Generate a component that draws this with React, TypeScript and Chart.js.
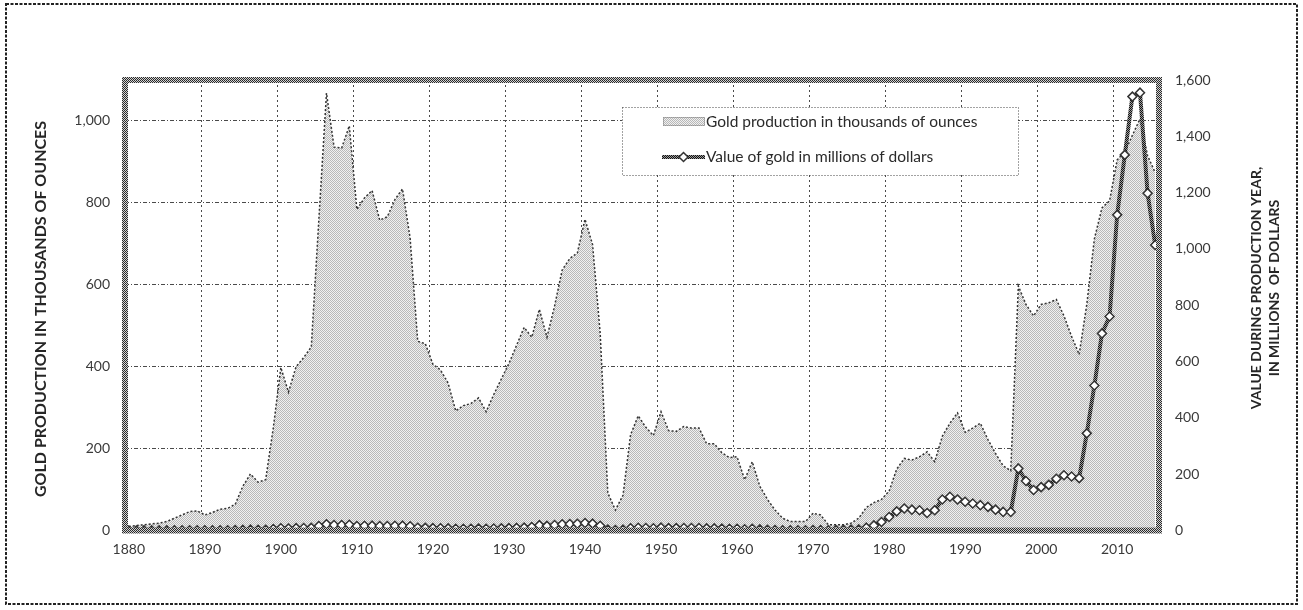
import React, { useEffect, useRef } from 'react';
import { Chart, registerables } from 'chart.js';

Chart.register(...registerables);

// Categories: production years 1880–2015
const years: number[] = Array.from({ length: 136 }, (_, i) => 1880 + i);

// Gold production in thousands of ounces (left axis)
const productionKOz: number[] = [
  10, 12, 14, 16, 18, 22, 30, 38, 46, 48, // 1880-1889
  38, 44, 52, 54, 64, 108, 138, 118, 124, 250, // 1890-1899
  398, 338, 400, 422, 448, 760, 1068, 936, 934, 988, // 1900-1909
  784, 812, 830, 758, 766, 808, 834, 714, 462, 456, // 1910-1919
  406, 392, 360, 292, 305, 310, 324, 290, 332, 370, // 1920-1929
  408, 452, 496, 472, 540, 472, 548, 636, 664, 678, // 1930-1939
  760, 698, 482, 92, 50, 86, 234, 280, 252, 232, // 1940-1949
  290, 244, 242, 254, 250, 250, 212, 212, 190, 178, // 1950-1959
  180, 124, 168, 108, 76, 50, 30, 22, 22, 22, // 1960-1969
  42, 38, 14, 14, 14, 18, 30, 56, 68, 76, // 1970-1979
  96, 150, 176, 172, 180, 192, 168, 230, 262, 287, // 1980-1989
  240, 250, 262, 222, 188, 158, 146, 597, 552, 524, // 1990-1999
  552, 556, 564, 524, 474, 430, 552, 712, 788, 805, // 2000-2009
  905, 924, 965, 1005, 915, 874, // 2010-2015
];

// Value of gold in millions of dollars (right axis)
const valueMillions: number[] = [
  0.2, 0.2, 0.3, 0.3, 0.4, 0.5, 0.6, 0.8, 1.0, 1.0, // 1880-1889
  0.8, 0.9, 1.1, 1.1, 1.3, 2.2, 2.9, 2.4, 2.6, 5.2, // 1890-1899
  8.2, 7.0, 8.3, 8.7, 9.3, 15.7, 22.1, 19.3, 19.3, 20.4, // 1900-1909
  16.2, 16.8, 17.2, 15.7, 15.8, 16.7, 17.2, 14.8, 9.5, 9.4, // 1910-1919
  8.4, 8.1, 7.4, 6.0, 6.3, 6.4, 6.7, 6.0, 6.9, 7.6, // 1920-1929
  8.4, 9.3, 10.3, 12.1, 18.9, 16.5, 19.2, 22.3, 23.2, 23.7, // 1930-1939
  26.6, 24.4, 16.9, 3.2, 1.8, 3.0, 8.2, 9.8, 8.8, 8.1, // 1940-1949
  10.2, 8.5, 8.5, 8.9, 8.8, 8.8, 7.4, 7.4, 6.7, 6.2, // 1950-1959
  6.3, 4.3, 5.9, 3.8, 2.7, 1.8, 1.1, 0.8, 0.9, 0.9, // 1960-1969
  1.5, 1.6, 0.8, 1.4, 2.2, 2.9, 3.8, 10, 18, 30, // 1970-1979
  48, 68, 78, 74, 72, 62, 72, 110, 120, 110, // 1980-1989
  102, 96, 90, 84, 74, 66, 66, 220, 176, 144, // 1990-1999
  154, 162, 184, 196, 192, 186, 345, 515, 700, 760, // 2000-2009
  1121, 1334, 1541, 1555, 1198, 1014, // 2010-2015
];

const leftTicks: number[] = [0, 200, 400, 600, 800, 1000];
const rightTicks: number[] = [0, 200, 400, 600, 800, 1000, 1200, 1400, 1600];

const leftTitle = 'GOLD PRODUCTION IN THOUSANDS OF OUNCES';
const rightTitleLines: string[] = ['VALUE DURING PRODUCTION YEAR,', 'IN MILLIONS  OF DOLLARS'];
const legendLabels: string[] = ['Gold production in thousands of ounces', 'Value of gold in millions of dollars'];

const FONT = 'Lato, "Open Sans", "DejaVu Sans", sans-serif';
const TEXT = '#3a3a3a';

function makeChecker(ctx: CanvasRenderingContext2D, a: string, b: string): CanvasPattern {
  const c = document.createElement('canvas');
  c.width = 2;
  c.height = 2;
  const g = c.getContext('2d')!;
  g.fillStyle = b;
  g.fillRect(0, 0, 2, 2);
  g.fillStyle = a;
  g.fillRect(0, 0, 1, 1);
  g.fillRect(1, 1, 1, 1);
  return ctx.createPattern(c, 'repeat')!;
}

export default function App() {
  const canvasRef = useRef<HTMLCanvasElement | null>(null);

  useEffect(() => {
    const canvas = canvasRef.current;
    if (!canvas) return;
    const ctx0 = canvas.getContext('2d')!;
    const fillPattern = makeChecker(ctx0, '#b8b8b8', '#f0f0f0');
    const linePattern = makeChecker(ctx0, '#111111', '#9a9a9a');
    const borderPattern = makeChecker(ctx0, '#2a2a2a', '#d4d4d4');

    Chart.defaults.font.family = FONT;

    const decor = {
      id: 'decor',
      afterDatasetsDraw(chart: any) {
        const { ctx, chartArea } = chart;
        const { left, top, right, bottom } = chartArea;
        ctx.save();
        // plot area border (hatched)
        ctx.strokeStyle = borderPattern;
        ctx.lineWidth = 6;
        ctx.setLineDash([]);
        ctx.strokeRect(left, top, right - left, bottom - top);

        // legend
        const lx = 622, ly = 107, lw = 396, lh = 68;
        ctx.fillStyle = '#ffffff';
        ctx.fillRect(lx, ly, lw, lh);
        ctx.strokeStyle = '#444';
        ctx.lineWidth = 1;
        ctx.setLineDash([1, 2]);
        ctx.strokeRect(lx + 0.5, ly + 0.5, lw, lh);
        ctx.setLineDash([]);
        // swatch 1
        ctx.fillStyle = fillPattern;
        ctx.fillRect(663, 117, 42, 9);
        ctx.strokeStyle = '#777';
        ctx.setLineDash([1, 1]);
        ctx.strokeRect(663.5, 117.5, 41, 8);
        ctx.setLineDash([]);
        // swatch 2
        ctx.strokeStyle = linePattern;
        ctx.lineWidth = 4;
        ctx.beginPath();
        ctx.moveTo(662, 157);
        ctx.lineTo(705, 157);
        ctx.stroke();
        ctx.beginPath();
        ctx.moveTo(683.5, 152.5);
        ctx.lineTo(688, 157);
        ctx.lineTo(683.5, 161.5);
        ctx.lineTo(679, 157);
        ctx.closePath();
        ctx.fillStyle = '#fff';
        ctx.fill();
        ctx.strokeStyle = '#333';
        ctx.lineWidth = 1.5;
        ctx.stroke();
        ctx.fillStyle = '#2a2a2a';
        ctx.font = `15.5px ${FONT}`;
        ctx.textAlign = 'left';
        ctx.textBaseline = 'middle';
        ctx.fillText(legendLabels[0], 706, 122);
        ctx.fillText(legendLabels[1], 706, 157);

        // axis titles
        ctx.fillStyle = '#262626';
        ctx.font = `bold 16px ${FONT}`;
        ctx.textAlign = 'center';
        ctx.save();
        ctx.translate(41, 309);
        ctx.rotate(-Math.PI / 2);
        ctx.fillText(leftTitle, 0, 0);
        ctx.restore();
        ctx.font = `bold 14px ${FONT}`;
        rightTitleLines.forEach((t, i) => {
          ctx.save();
          ctx.translate(1256 + i * 18, 288);
          ctx.rotate(-Math.PI / 2);
          ctx.fillText(t, 0, 0);
          ctx.restore();
        });

        // outer dashed frame
        ctx.strokeStyle = '#222';
        ctx.lineWidth = 2;
        ctx.setLineDash([3, 1.5]);
        ctx.strokeRect(6, 4, 1291, 600);
        ctx.restore();
      },
    };

    const chart = new Chart(canvas, {
      type: 'line',
      data: {
        labels: years.map(String),
        datasets: [
          {
            label: legendLabels[1],
            data: valueMillions,
            yAxisID: 'y1',
            borderColor: linePattern,
            borderWidth: 4,
            tension: 0,
            fill: false,
            pointStyle: 'rectRot',
            pointRadius: 4.5,
            pointBackgroundColor: '#ffffff',
            pointBorderColor: '#333333',
            pointBorderWidth: 1.5,
            order: 1,
          },
          {
            label: legendLabels[0],
            data: productionKOz,
            yAxisID: 'y',
            borderColor: '#333333',
            borderWidth: 1.5,
            borderDash: [2, 2],
            backgroundColor: fillPattern,
            fill: 'origin',
            tension: 0,
            pointRadius: 0,
            order: 2,
          },
        ],
      },
      options: {
        responsive: false,
        animation: false,
        devicePixelRatio: 1,
        layout: { padding: { top: 80, left: 0, right: 0, bottom: 0 } },
        plugins: { legend: { display: false }, tooltip: { enabled: false } },
        scales: {
          x: {
            type: 'category',
            offset: true,
            grid: {
              offset: true,
              drawTicks: false,
              lineWidth: 1,
              color: (c: any) => (c.index !== undefined && years[c.index] % 10 === 0 ? '#4a4a4a' : 'rgba(0,0,0,0)'),
            },
            border: { display: false, dash: [2, 3] },
            ticks: {
              autoSkip: false,
              maxRotation: 0,
              minRotation: 0,
              padding: 11,
              color: TEXT,
              font: { size: 14, family: FONT },
              callback: (_v: any, i: number) => (years[i] % 10 === 0 ? String(years[i]) : ''),
            },
            afterFit: (s: any) => {
              s.height = 79.5;
            },
          },
          y: {
            type: 'linear',
            position: 'left',
            min: 0,
            max: 1100,
            afterBuildTicks: (s: any) => {
              s.ticks = leftTicks.map((v) => ({ value: v }));
            },
            grid: {
              drawTicks: false,
              lineWidth: 1,
              color: (c: any) => (c.tick && c.tick.value > 0 ? '#4a4a4a' : 'rgba(0,0,0,0)'),
            },
            border: { display: false, dash: [4, 2, 1, 2] },
            ticks: {
              padding: 15,
              color: TEXT,
              font: { size: 14, family: FONT },
              callback: (v: any) => Number(v).toLocaleString('en-US'),
            },
            afterFit: (s: any) => {
              s.width = 125;
            },
          },
          y1: {
            type: 'linear',
            position: 'right',
            min: 0,
            max: 1600,
            afterBuildTicks: (s: any) => {
              s.ticks = rightTicks.map((v) => ({ value: v }));
            },
            grid: { drawOnChartArea: false, drawTicks: false },
            border: { display: false },
            ticks: {
              padding: 16,
              color: TEXT,
              font: { size: 14, family: FONT },
              callback: (v: any) => Number(v).toLocaleString('en-US'),
            },
            afterFit: (s: any) => {
              s.width = 144;
            },
          },
        },
      },
      plugins: [decor],
    } as any);

    return () => {
      chart.destroy();
    };
  }, []);

  return (
    <div style={{ position: 'absolute', left: 0, top: 0, width: 1303, height: 610, background: '#fff' }}>
      <canvas ref={canvasRef} width={1303} height={610} style={{ display: 'block' }} />
    </div>
  );
}
